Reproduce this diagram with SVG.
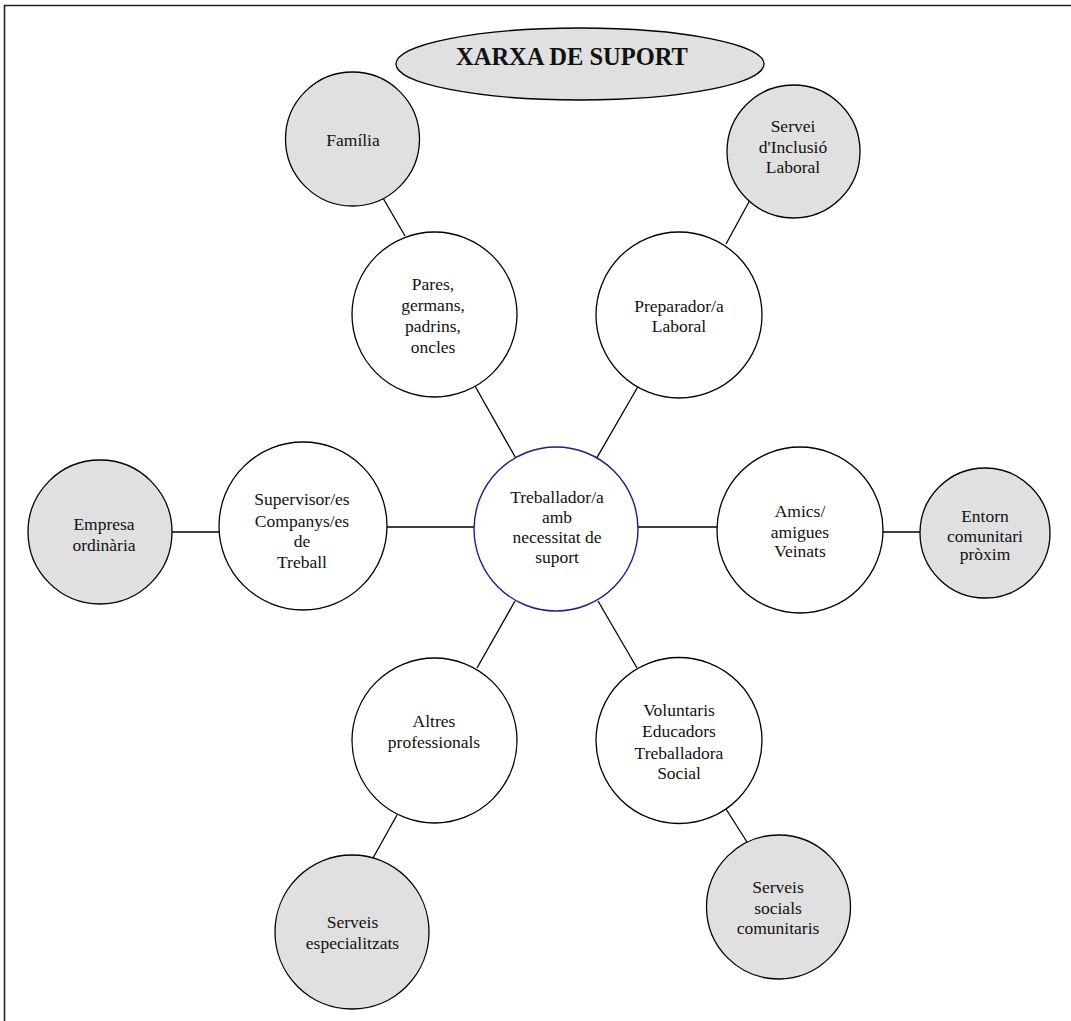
<svg xmlns="http://www.w3.org/2000/svg" width="1071" height="1021" viewBox="0 0 1071 1021">
<style>
.w{fill:#ffffff;stroke:#000;stroke-width:1.3}
.g{fill:#e0e0e0;stroke:#000;stroke-width:1.3}
.c{fill:#ffffff;stroke:#1c1c96;stroke-width:1.4}
.t{font-family:"Liberation Serif","Times New Roman",serif;font-size:17.5px;fill:#111;text-anchor:middle}
.h{font-family:"Liberation Serif","Times New Roman",serif;font-size:24.5px;font-weight:bold;fill:#111;text-anchor:middle}
#edges line{stroke:#000;stroke-width:1.3}
</style>
<rect width="1071" height="1021" fill="#fff"/>
<path d="M1080,5.5 H4.5 V1030" fill="none" stroke="#222" stroke-width="1.6"/>
<g id="edges">
<line x1="383" y1="198" x2="405" y2="236"/>
<line x1="750" y1="200" x2="726" y2="244"/>
<line x1="475" y1="386" x2="515.6" y2="457.7"/>
<line x1="637.7" y1="387" x2="596.8" y2="457.9"/>
<line x1="515" y1="601" x2="477" y2="668"/>
<line x1="598" y1="601" x2="637" y2="668"/>
<line x1="387" y1="527" x2="474" y2="527"/>
<line x1="638" y1="527" x2="717" y2="527"/>
<line x1="172" y1="532" x2="219" y2="532"/>
<line x1="883" y1="532" x2="920" y2="532"/>
<line x1="397" y1="815" x2="373" y2="858"/>
<line x1="726" y1="809" x2="747" y2="842"/>
</g>
<g id="title">
<ellipse class="g" cx="580" cy="64" rx="184" ry="36"/>
<text class="h" x="572" y="65">XARXA DE SUPORT</text>
</g>
<g id="familia">
<circle class="g" cx="352.5" cy="139" r="67"/>
<text class="t" x="353" y="146">Família</text>
</g>
<g id="servei">
<circle class="g" cx="793.5" cy="151.5" r="66.5"/>
<text class="t" x="793" y="132">Servei</text>
<text class="t" x="793" y="153">d'Inclusió</text>
<text class="t" x="793" y="173">Laboral</text>
</g>
<g id="pares">
<circle class="w" cx="434.5" cy="314.5" r="82.5"/>
<text class="t" x="433" y="290">Pares,</text>
<text class="t" x="433" y="311">germans,</text>
<text class="t" x="433" y="332">padrins,</text>
<text class="t" x="433" y="353">oncles</text>
</g>
<g id="preparador">
<circle class="w" cx="679" cy="315" r="83"/>
<text class="t" x="679" y="312">Preparador/a</text>
<text class="t" x="679" y="332">Laboral</text>
</g>
<g id="center">
<circle class="c" cx="556" cy="529" r="82"/>
<text class="t" x="557" y="503">Treballador/a</text>
<text class="t" x="557" y="523">amb</text>
<text class="t" x="557" y="543">necessitat de</text>
<text class="t" x="557" y="563">suport</text>
</g>
<g id="empresa">
<circle class="g" cx="100" cy="532" r="72"/>
<text class="t" x="104" y="530">Empresa</text>
<text class="t" x="104" y="551">ordinària</text>
</g>
<g id="supervisor">
<circle class="w" cx="303" cy="526" r="84"/>
<text class="t" x="302" y="505">Supervisor/es</text>
<text class="t" x="302" y="527">Companys/es</text>
<text class="t" x="302" y="547">de</text>
<text class="t" x="302" y="568">Treball</text>
</g>
<g id="amics">
<circle class="w" cx="800" cy="530" r="83"/>
<text class="t" x="800" y="517">Amics/</text>
<text class="t" x="800" y="538">amigues</text>
<text class="t" x="800" y="557">Veinats</text>
</g>
<g id="entorn">
<circle class="g" cx="985" cy="533" r="65"/>
<text class="t" x="985" y="522">Entorn</text>
<text class="t" x="985" y="542">comunitari</text>
<text class="t" x="985" y="560">pròxim</text>
</g>
<g id="altres">
<circle class="w" cx="434.5" cy="740.5" r="82.5"/>
<text class="t" x="434" y="727">Altres</text>
<text class="t" x="434" y="748">professionals</text>
</g>
<g id="voluntaris">
<circle class="w" cx="679" cy="740.5" r="83"/>
<text class="t" x="679" y="716">Voluntaris</text>
<text class="t" x="679" y="737">Educadors</text>
<text class="t" x="679" y="759">Treballadora</text>
<text class="t" x="679" y="779">Social</text>
</g>
<g id="especialitzats">
<circle class="g" cx="352" cy="932" r="77"/>
<text class="t" x="352.5" y="928">Serveis</text>
<text class="t" x="352.5" y="949">especialitzats</text>
</g>
<g id="socials">
<circle class="g" cx="778.5" cy="907" r="72"/>
<text class="t" x="778" y="893">Serveis</text>
<text class="t" x="778" y="914">socials</text>
<text class="t" x="778" y="934">comunitaris</text>
</g>
</svg>
